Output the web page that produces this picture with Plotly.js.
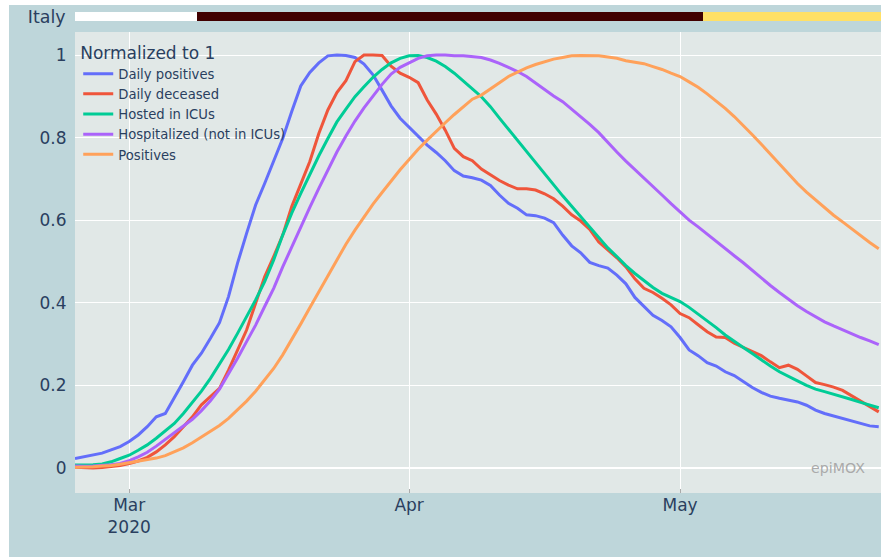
<!DOCTYPE html>
<html>
<head>
<meta charset="utf-8">
<script src="https://cdn.plot.ly/plotly-3.0.1.min.js"></script>
<style>
html,body{margin:0;padding:0;background:#ffffff;overflow:hidden;}
#chart{position:absolute;left:9px;top:5px;width:872px;height:552px;}
</style>
</head>
<body>
<div id="chart"></div>
<script>
// Daily series start on 2020-02-24, one value per day
const startDate = '2020-02-24';
const region = 'Italy';

const dailyPositives = [0.023,0.027,0.031,0.036,0.044,0.052,0.064,0.080,0.100,0.124,
0.132,0.169,0.209,0.249,0.278,0.314,0.352,0.415,0.496,0.568,
0.637,0.689,0.742,0.798,0.863,0.925,0.958,0.981,0.998,1.000,
0.999,0.994,0.978,0.952,0.915,0.877,0.847,0.825,0.804,0.782,
0.764,0.744,0.720,0.707,0.703,0.697,0.684,0.661,0.641,0.629,
0.613,0.611,0.605,0.594,0.564,0.538,0.521,0.498,0.490,0.484,
0.467,0.446,0.413,0.391,0.370,0.357,0.342,0.316,0.286,0.272,
0.255,0.247,0.233,0.224,0.209,0.195,0.183,0.174,0.169,0.165,
0.160,0.152,0.140,0.132,0.126,0.121,0.115,0.109,0.102,0.100];

const dailyDeceased = [0.002,0.001,0.000,0.001,0.003,0.006,0.011,0.017,0.026,0.039,
0.056,0.076,0.100,0.124,0.153,0.173,0.193,0.237,0.286,0.334,
0.399,0.463,0.512,0.564,0.633,0.689,0.742,0.810,0.867,0.909,
0.938,0.984,1.000,1.000,0.999,0.973,0.956,0.946,0.933,0.891,
0.857,0.818,0.774,0.754,0.744,0.724,0.709,0.696,0.685,0.676,
0.676,0.673,0.664,0.652,0.634,0.613,0.598,0.578,0.547,0.529,
0.509,0.487,0.458,0.435,0.425,0.411,0.395,0.374,0.364,0.347,
0.330,0.317,0.316,0.302,0.292,0.283,0.272,0.257,0.243,0.249,
0.239,0.223,0.207,0.202,0.196,0.188,0.175,0.162,0.150,0.136];

const hostedICU = [0.007,0.007,0.008,0.010,0.015,0.023,0.031,0.043,0.056,0.072,
0.090,0.108,0.132,0.158,0.186,0.217,0.251,0.287,0.326,0.366,
0.407,0.451,0.504,0.564,0.617,0.665,0.712,0.756,0.798,0.838,
0.869,0.899,0.923,0.946,0.965,0.981,0.992,0.998,0.999,0.994,
0.985,0.972,0.956,0.938,0.918,0.899,0.875,0.847,0.820,0.793,
0.765,0.739,0.712,0.685,0.659,0.634,0.609,0.584,0.558,0.533,
0.512,0.490,0.471,0.454,0.437,0.423,0.413,0.403,0.389,0.373,
0.357,0.340,0.322,0.308,0.292,0.277,0.261,0.247,0.233,0.221,
0.211,0.200,0.191,0.185,0.179,0.173,0.166,0.159,0.153,0.146];

const hospitalized = [0.005,0.004,0.005,0.006,0.008,0.011,0.018,0.027,0.038,0.053,
0.069,0.086,0.102,0.118,0.139,0.163,0.191,0.227,0.266,0.306,
0.346,0.391,0.435,0.487,0.536,0.584,0.631,0.677,0.722,0.765,
0.804,0.840,0.872,0.902,0.929,0.954,0.970,0.981,0.992,0.998,
1.000,1.000,0.998,0.998,0.996,0.994,0.988,0.980,0.970,0.960,
0.948,0.932,0.915,0.901,0.887,0.869,0.849,0.832,0.812,0.788,
0.765,0.743,0.723,0.702,0.681,0.661,0.640,0.620,0.600,0.584,
0.566,0.549,0.532,0.514,0.497,0.478,0.460,0.442,0.425,0.408,
0.393,0.379,0.366,0.354,0.344,0.334,0.324,0.316,0.308,0.299];

const positives = [0.002,0.002,0.003,0.005,0.006,0.009,0.013,0.016,0.020,0.024,
0.030,0.039,0.049,0.061,0.075,0.089,0.103,0.120,0.140,0.162,
0.186,0.213,0.241,0.274,0.310,0.349,0.388,0.427,0.467,0.505,
0.542,0.576,0.609,0.639,0.667,0.696,0.722,0.747,0.772,0.794,
0.816,0.836,0.856,0.875,0.893,0.903,0.917,0.933,0.948,0.959,
0.969,0.977,0.984,0.990,0.994,0.998,0.999,0.999,0.998,0.995,
0.992,0.986,0.983,0.979,0.972,0.965,0.956,0.948,0.935,0.922,
0.906,0.889,0.871,0.851,0.830,0.807,0.784,0.760,0.736,0.711,
0.689,0.668,0.649,0.630,0.612,0.596,0.579,0.562,0.546,0.531];

// Restriction level per day (0 = none, 1 = lockdown, 2 = reopening)
const restriction = [0,0,0,0,0,0,0,0,0,0,0,0,0,0,
1,1,1,1,1,1,1,1,1,1,1,1,1,1,1,1,1,1,1,1,1,1,1,1,1,1,1,1,1,1,
1,1,1,1,1,1,1,1,1,1,1,1,1,1,1,1,1,1,1,1,1,1,1,1,1,1,
2,2,2,2,2,2,2,2,2,2,2,2,2,2,2,2,2,2,2,2];

const seriesNames = ['Daily positives','Daily deceased','Hosted in ICUs','Hospitalized (not in ICUs)','Positives'];
const seriesColors = ['#636efa','#EF553B','#00cc96','#ab63fa','#FFA15A'];
const seriesData = [dailyPositives, dailyDeceased, hostedICU, hospitalized, positives];
const restrictionColors = ['#ffffff','#400000','#ffe066'];
const monthTicks = ['2020-03-01','2020-04-01','2020-05-01'];
const monthLabels = ['Mar<br>2020','Apr','May'];

function dayList(start, n){
  const out=[]; const t0=new Date(start+'T00:00:00Z').getTime();
  for(let i=0;i<n;i++){ const d=new Date(t0+i*86400000); out.push(d.toISOString().slice(0,10)); }
  return out;
}
const dates = dayList(startDate, dailyPositives.length);

const traces = seriesData.map((ys,i)=>({
  type:'scatter', mode:'lines', x:dates, y:ys, name:seriesNames[i],
  line:{color:seriesColors[i], width:3}, xaxis:'x', yaxis:'y', hoverinfo:'skip'
}));

traces.push({
  type:'heatmap', x:dates, y:[region], z:[restriction], xaxis:'x', yaxis:'y2',
  zmin:0, zmax:2, showscale:false, hoverinfo:'skip', showlegend:false,
  colorscale:[[0,restrictionColors[0]],[0.333,restrictionColors[0]],[0.334,restrictionColors[1]],[0.666,restrictionColors[1]],[0.667,restrictionColors[2]],[1,restrictionColors[2]]]
});

const layout = {
  width:872, height:552,
  margin:{l:66, r:0, t:7, b:64},
  paper_bgcolor:'#bed6da',
  plot_bgcolor:'#e1e8e7',
  font:{family:'DejaVu Sans, Verdana, sans-serif', color:'#2a3f5f', size:17},
  showlegend:true,
  legend:{
    x:0.004, y:0.949, xanchor:'left', yanchor:'top',
    bgcolor:'rgba(0,0,0,0)',
    font:{size:13.2, color:'#2a3f5f'},
    title:{text:'Normalized to 1', font:{size:17, color:'#2a3f5f'}},
    tracegroupgap:0
  },
  xaxis:{
    type:'date', anchor:'y',
    range:['2020-02-24','2020-05-23 06:00'],
    tickmode:'array', tickvals:monthTicks, ticktext:monthLabels,
    showgrid:true, gridcolor:'#ffffff', gridwidth:1,
    ticks:'inside', ticklen:4, tickcolor:'#aaaaaa',
    tickfont:{size:17}, zeroline:false, showline:false
  },
  yaxis:{
    domain:[0,0.9584],
    range:[-0.0605,1.0557],
    tickvals:[0,0.2,0.4,0.6,0.8,1],
    ticktext:['0','0.2','0.4','0.6','0.8','1'],
    showgrid:true, gridcolor:'#ffffff', gridwidth:1,
    zeroline:true, zerolinecolor:'#ffffff', zerolinewidth:1.5,
    ticks:'outside', ticklen:4, tickcolor:'rgba(0,0,0,0)',
    tickfont:{size:17}
  },
  yaxis2:{
    domain:[0.9813,1], anchor:'x', type:'category',
    range:[-0.5,0.5], showgrid:false, zeroline:false,
    ticks:'outside', ticklen:5, tickcolor:'rgba(0,0,0,0)',
    tickfont:{size:17.4}
  },
  annotations:[{
    text:'epiMOX', xref:'x', yref:'y', x:'2020-05-18 12:00', y:0, yanchor:'middle', xanchor:'center',
    showarrow:false, font:{size:14.2, color:'#aaaaaa'}
  }]
};

Plotly.newPlot('chart', traces, layout, {displayModeBar:false, staticPlot:true});
</script>
</body>
</html>
